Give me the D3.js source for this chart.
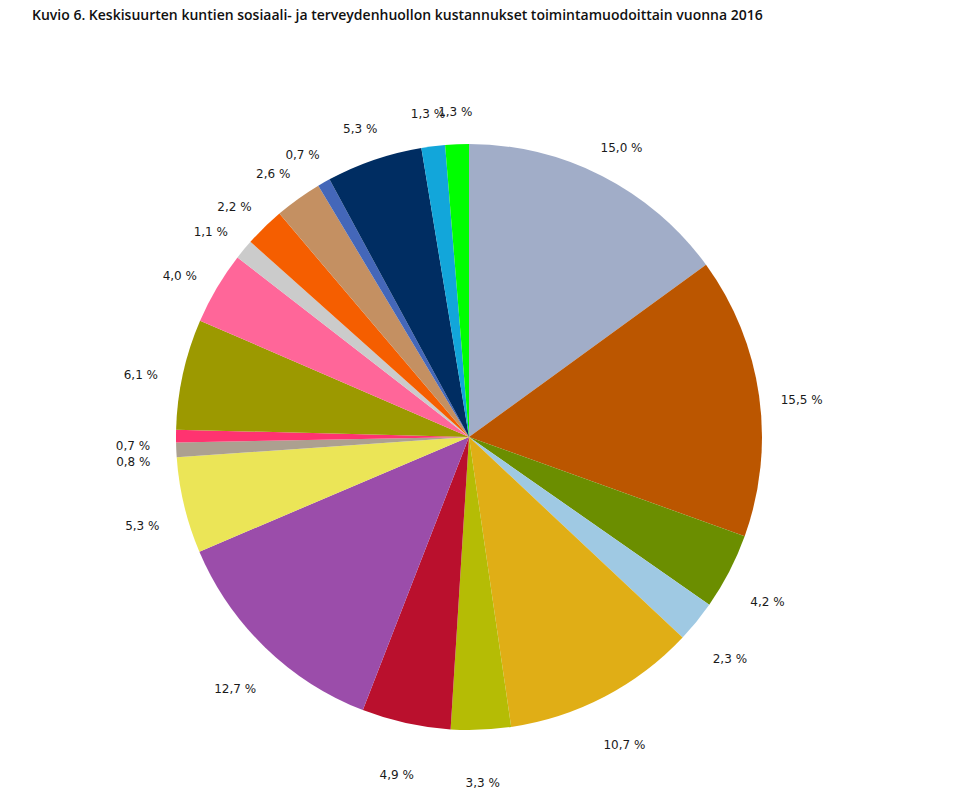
<!DOCTYPE html>
<html><head><meta charset="utf-8">
<script src="https://cdn.jsdelivr.net/npm/d3@7"></script>
<style>body{margin:0;background:#fff}svg{display:block}</style>
</head><body>
<svg id="c" width="962" height="792"></svg>
<script>
const title = "Kuvio 6. Keskisuurten kuntien sosiaali- ja terveydenhuollon kustannukset toimintamuodoittain vuonna 2016";
const values = [15.0, 15.5, 4.2, 2.3, 10.7, 3.3, 4.9, 12.7, 5.3, 0.8, 0.7, 6.1, 4.0, 1.1, 2.2, 2.6, 0.7, 5.3, 1.3, 1.3];
const labels = ["15,0 %","15,5 %","4,2 %","2,3 %","10,7 %","3,3 %","4,9 %","12,7 %","5,3 %","0,8 %","0,7 %","6,1 %","4,0 %","1,1 %","2,2 %","2,6 %","0,7 %","5,3 %","1,3 %","1,3 %"];
const colors = ["#A1ADC8","#BB5600","#6B8E00","#9FC9E3","#E0AE16","#B5BC05","#BA102D","#9B4DAA","#EBE557","#ACA090","#FF3370","#9C9900","#FF6699","#CBCBCB","#F55E00","#C49062","#4467B9","#002D62","#12A6DA","#00FF00"];

const svg = d3.select("#c");
svg.append("text").attr("x", 32).attr("y", 20)
  .attr("font-family", "Open Sans").attr("font-size", 14).attr("font-weight", 600)
  .attr("fill", "#111").text(title);

const cx = 469, cy = 437, r = 293, lr = 336;
const pie = d3.pie().sort(null).value(d => d)(values);
const arc = d3.arc().innerRadius(0).outerRadius(r);
const g = svg.append("g").attr("transform", `translate(${cx},${cy})`);
g.selectAll("path").data(pie).join("path")
  .attr("d", arc).attr("fill", (d, i) => colors[i]);
const labArc = d3.arc().innerRadius(lr).outerRadius(lr);
g.selectAll("text").data(pie).join("text")
  .attr("x", d => labArc.centroid(d)[0])
  .attr("y", d => labArc.centroid(d)[1] + 10)
  .attr("dy", "0.36em")
  .attr("text-anchor", "middle")
  .attr("font-family", "DejaVu Sans").attr("font-size", 12)
  .attr("fill", "#1a1a1a")
  .text((d, i) => labels[i]);
</script>
</body></html>
